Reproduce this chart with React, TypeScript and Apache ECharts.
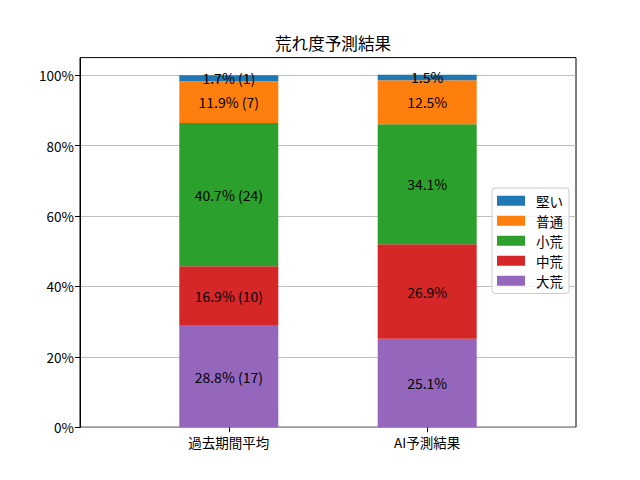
import React, { useEffect, useRef } from "react";
import * as echarts from "echarts";

const categories = ["過去期間平均", "AI予測結果"];
const levels = ["大荒", "中荒", "小荒", "普通", "堅い"];
const pastPct = [28.8, 16.9, 40.7, 11.9, 1.7];
const pastCount = [17, 10, 24, 7, 1];
const aiPct = [25.1, 26.9, 34.1, 12.5, 1.5];
const colors = ["#9467bd", "#d62728", "#2ca02c", "#ff7f0e", "#1f77b4"];
const legendOrder = ["堅い", "普通", "小荒", "中荒", "大荒"];
const yTicks = [0, 20, 40, 60, 80, 100];

const FONT = "'Noto Sans CJK JP', 'DejaVu Sans', sans-serif";

export default function App() {
  const ref = useRef<HTMLDivElement>(null);
  useEffect(() => {
    if (!ref.current) return;
    const chart = echarts.init(ref.current, undefined, { renderer: "svg" });
    const series = levels.map((name, i) => ({
      name,
      type: "bar",
      stack: "total",
      barWidth: 99,
      xAxisIndex: 1,
      yAxisIndex: 1,
      itemStyle: { color: colors[i] },
      label: {
        show: true,
        position: "inside",
        color: "#000",
        fontSize: 14,
        fontFamily: FONT,
        formatter: (p: any) =>
          p.dataIndex === 0
            ? `${pastPct[i]}% (${pastCount[i]})`
            : `${aiPct[i]}%`,
      },
      data: [pastPct[i], aiPct[i]],
    }));
    chart.setOption({
      animation: false,
      textStyle: { fontFamily: FONT },
      title: {
        text: "荒れ度予測結果",
        left: 270,
        top: 30,
        textStyle: { fontSize: 16.6, fontWeight: "normal", color: "#000", fontFamily: FONT },
      },
      grid: [
        {
          left: 80,
          right: 64,
          top: 57.6,
          bottom: 52.8,
          show: true,
          borderColor: "#000",
          borderWidth: 1,
          backgroundColor: "transparent",
        },
        {
          left: 129.6,
          right: 640 - 526.4,
          top: 57.6,
          bottom: 52.8,
        },
      ],
      legend: {
        data: legendOrder,
        orient: "vertical",
        left: 492,
        top: 188,
        itemWidth: 28,
        itemHeight: 10,
        itemGap: 6.5,
        padding: [6, 6, 6, 5],
        borderColor: "#cccccc",
        borderWidth: 1,
        borderRadius: 3,
        backgroundColor: "rgba(255,255,255,0.8)",
        textStyle: { fontSize: 13.5, color: "#000", fontFamily: FONT, padding: [0, 0, 0, 6] },
        icon: "rect",
      },
      xAxis: [
        {
          type: "value",
          gridIndex: 0,
          min: 0,
          max: 1,
          show: false,
        },
        {
          type: "category",
          gridIndex: 1,
          data: categories,
          axisLine: { show: false },
          axisTick: { show: true, alignWithLabel: true, length: 5, lineStyle: { color: "#000" } },
          axisLabel: {
            color: "#000",
            fontSize: 13.5,
            margin: 8,
            fontFamily: FONT,
          },
          splitLine: { show: false },
        },
      ],
      yAxis: [
        {
          type: "value",
          gridIndex: 0,
          min: 0,
          max: 105,
          interval: 20,
          axisLine: { show: true, onZero: false, lineStyle: { color: "#000" } },
          axisTick: { show: true, customValues: yTicks, length: 5, lineStyle: { color: "#000" } },
          axisLabel: {
            customValues: yTicks,
            color: "#000",
            fontSize: 13.5,
            margin: 6,
            fontFamily: FONT,
            formatter: (v: number) => (v > 100 ? "" : `${v}%`),
          },
          splitLine: { show: true, lineStyle: { color: "#b0b0b0", width: 0.8 } },
        },
        {
          type: "value",
          gridIndex: 1,
          min: 0,
          max: 105,
          show: false,
          splitLine: { show: false },
        },
      ],
      series,
    });
    return () => chart.dispose();
  }, []);
  return (
    <div
      ref={ref}
      style={{ position: "fixed", left: 0, top: 0, width: 640, height: 480, background: "#fff" }}
    />
  );
}
